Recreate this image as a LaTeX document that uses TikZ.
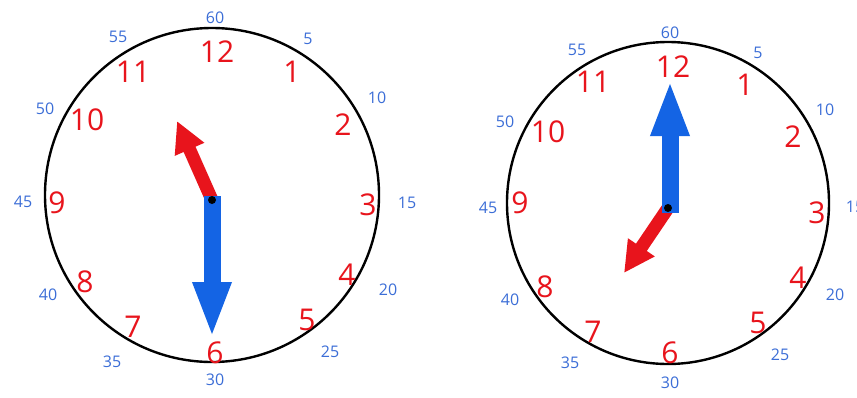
\documentclass[tikz,border=0pt]{standalone}
\usepackage{fontspec}
\setmainfont{Open Sans}
\usetikzlibrary{arrows.meta}
\definecolor{hred}{RGB}{232,20,28}
\definecolor{hblue}{RGB}{20,100,228}
\definecolor{nblue}{RGB}{60,110,215}
\tikzset{
  face/.style={draw=black, line width=2.4pt},
  hournum/.style={text=hred, font=\fontsize{30}{30}\selectfont, inner sep=0pt},
  minnum/.style={text=nblue, font=\fontsize{16}{16}\selectfont, inner sep=0pt},
  minhand/.style={draw=hblue, line width=17pt, line cap=butt, -{Triangle[width=35pt,length=56pt]}},
  hourhand/.style={draw=hred, line width=13pt, line cap=butt, -{Triangle[width=30pt,length=31pt]}},
  hub/.style={circle, fill=black, inner sep=0pt, minimum size=8pt}
}
\begin{document}
\begin{tikzpicture}[x=1pt,y=-1pt]
\useasboundingbox (0,0) rectangle (857,397);
\fill[white] (0,0) rectangle (857,397);
% ---------- left clock ----------
\node[face, circle, minimum size=334pt, inner sep=0pt] (LF) at (212,195) {};
\foreach \n/\x/\y in {12/217/52, 1/292/72, 2/343/125, 3/368/205, 4/347/275, 5/307/320,
                      6/215/353, 7/133/327, 8/85/282, 9/57/203, 10/87/120, 11/133/72}
  \node[hournum] (LH\n) at (\x,\y) {\n};
\foreach \n/\x/\y in {60/215/18, 5/308/39, 10/377/98, 15/407/203, 20/388/290, 25/330/352,
                      30/215/380, 35/112/362, 40/48/295, 45/23/202, 50/45/109, 55/118/37}
  \node[minnum] (LM\n) at (\x,\y) {\n};
\coordinate (LC) at (212,200);
\coordinate (LCm) at (212,196);
\coordinate (LMT) at (212,338);
\coordinate (LHT) at (177,121);
\draw[hourhand] (LC) -- (LHT);
\draw[minhand] (LCm) -- (LMT);
\node[hub] (LHub) at (LC) {};
% ---------- right clock ----------
\node[face, circle, minimum size=322pt, inner sep=0pt] (RF) at (668,203) {};
\foreach \n/\x/\y in {12/673/67, 1/745/85, 2/793/137, 3/817/213, 4/798/278, 5/758/323,
                      6/670/353, 7/593/332, 8/545/287, 9/520/203, 10/548/132, 11/593/82}
  \node[hournum] (RH\n) at (\x,\y) {\n};
\foreach \n/\x/\y in {60/670/33, 5/758/53, 10/825/110, 15/855/207, 20/835/295, 25/780/355,
                      30/670/383, 35/570/363, 40/510/300, 45/488/208, 50/505/122, 55/577/50}
  \node[minnum] (RM\n) at (\x,\y) {\n};
\coordinate (RC) at (668,208);
\coordinate (RCm) at (670,213);
\coordinate (RMT) at (670,80);
\coordinate (RHT) at (624,273);
\draw[hourhand] (RC) -- (RHT);
\draw[minhand] (RCm) -- (RMT);
\node[hub] (RHub) at (RC) {};
\end{tikzpicture}
\end{document}
